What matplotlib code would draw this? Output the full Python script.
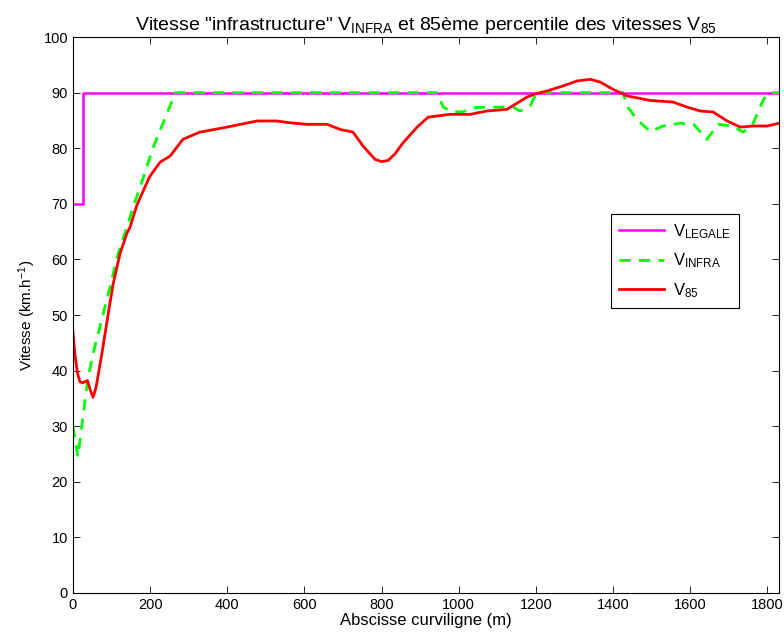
import matplotlib
matplotlib.use("Agg")
import matplotlib.pyplot as plt

# V_LEGALE (speed limit)
legale_x = [0, 25, 25, 1830]
legale_y = [70, 70, 90, 90]

# V_INFRA
infra_x = [0, 8, 13, 26, 39, 52, 70, 96, 117, 140, 156, 174, 210, 257, 265,
           944, 960, 978, 1009, 1037, 1089, 1141, 1159, 1185, 1198, 1202,
           1426, 1436, 1462, 1496, 1530, 1574, 1609, 1643, 1673, 1708, 1738,
           1764, 1790, 1807, 1830]
infra_y = [30, 26.6, 24.5, 31.7, 38.7, 43, 47.9, 55, 61, 65.8, 69.4, 73, 80.5, 88.5, 90,
           90, 87.4, 86.7, 86.5, 87.3, 87.4, 87.4, 86.7, 87.6, 89.4, 90,
           90, 87.6, 85.2, 83, 84, 84.5, 84.3, 81.6, 84.3, 84, 82.9,
           84.6, 88.8, 90, 90]

# V85
v85_x = [0, 5, 12, 18, 25, 31, 38, 45, 52, 60, 75, 91, 104, 122, 140, 148, 166,
         195, 200, 226, 252, 285, 329, 399, 477, 529, 560, 607, 659, 692, 726,
         752, 783, 800, 817, 835, 856, 892, 921, 978, 1030, 1073, 1125, 1177,
         1200, 1229, 1270, 1307, 1341, 1367, 1400, 1437, 1496, 1556, 1592, 1626,
         1660, 1696, 1730, 1764, 1800, 1830]
v85_y = [47, 43, 39.5, 38, 37.8, 38, 38.2, 36.5, 35.2, 37, 43, 50, 55.5, 61, 64.7, 65.8, 69.8,
         74.3, 75, 77.5, 78.6, 81.6, 82.9, 83.8, 84.9, 84.9, 84.6, 84.3, 84.3, 83.4, 82.9,
         80.4, 78, 77.6, 77.8, 79, 81, 83.8, 85.6, 86.1, 86.1, 86.7, 87, 89.2,
         89.8, 90.3, 91.2, 92.1, 92.4, 91.9, 90.6, 89.4, 88.6, 88.3, 87.4, 86.7,
         86.5, 84.9, 83.8, 84, 84, 84.5]

plt.rcParams.update({
    "font.family": ["Liberation Sans", "DejaVu Sans"],
    "font.size": 10.5,
    "mathtext.default": "regular",
})

fig = plt.figure(figsize=(7.84, 6.39), dpi=100)
ax = fig.add_axes([0.093, 0.072, 0.9005, 0.870])

ax.plot(legale_x, legale_y, color="#ff00ff", lw=1.8, label=r"V$_{LEGALE}$")
ax.plot(infra_x, infra_y, color="#00ff00", lw=2.0, ls=(0, (4, 3)), label=r"V$_{INFRA}$")
ax.plot(v85_x, v85_y, color="#ff0000", lw=2.0, label=r"V$_{85}$")

ax.set_xlim(0, 1830)
ax.set_ylim(0, 100)
ax.set_xticks(range(0, 1801, 200))
ax.set_yticks(range(0, 101, 10))
ax.tick_params(direction="in", top=True, right=True, length=5, width=0.6)
for sp in ax.spines.values():
    sp.set_linewidth(0.8)

ax.set_xlabel("Abscisse curviligne (m)", labelpad=1, fontsize=12)
ax.set_ylabel(r"Vitesse (km.h$^{-1}$)", fontsize=11)
ax.set_title(r'Vitesse "infrastructure" V$_{INFRA}$ et 85ème percentile des vitesses V$_{85}$',
             pad=5, fontsize=14)

leg = ax.legend(loc="upper left", bbox_to_anchor=(0.762, 0.682), borderaxespad=0,
                fancybox=False, edgecolor="black", framealpha=1, handlelength=2.7,
                borderpad=0.5, labelspacing=0.65, fontsize=12, handletextpad=0.5)
leg.get_frame().set_linewidth(0.8)

fig.savefig("out.png", dpi=100)
